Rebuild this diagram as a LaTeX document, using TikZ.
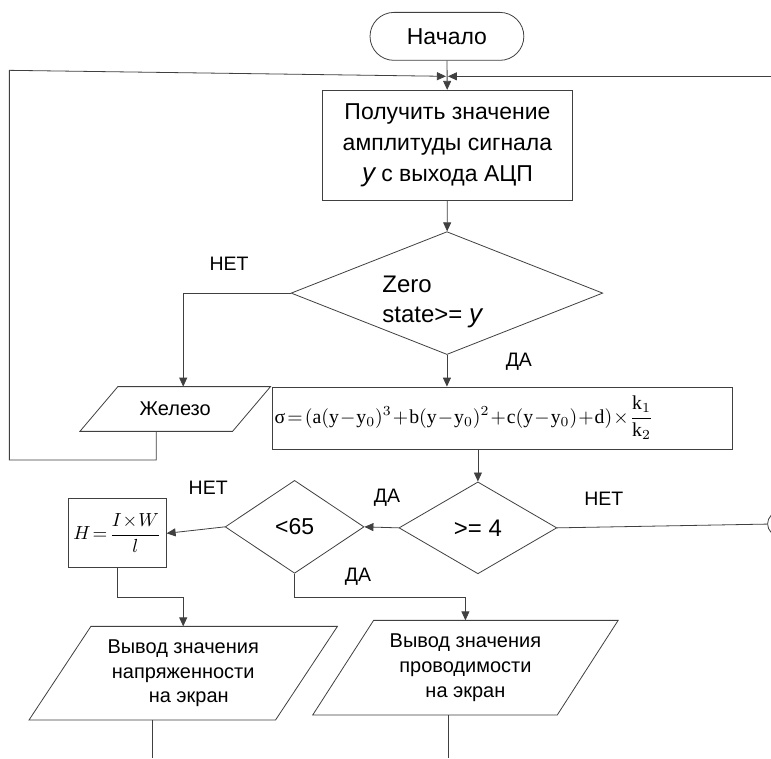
\documentclass[tikz,border=0pt]{standalone}
\usepackage{fontspec}
\usepackage{graphicx}
\setmainfont{Liberation Sans}
\setmathrm{Liberation Serif}
\newfontfamily\tnr{Liberation Serif}
\usetikzlibrary{shapes.geometric,shapes.misc,arrows.meta,calc}
\begin{document}
\begin{tikzpicture}[x=1pt,y=-1pt,
  every path/.style={line width=0.8pt, draw=black!75},
  box/.style={draw, rectangle, inner sep=0pt, align=center},
  dia/.style={draw, diamond, inner sep=0pt, align=center},
  iotext/.style={rectangle, inner sep=0pt, align=center},
  term/.style={draw, rounded rectangle, inner sep=0pt},
  arr/.style={-{Triangle[length=9pt,width=8pt]}},
  lbl/.style={font=\fontsize{19.5}{22}\selectfont},
  big/.style={font=\fontsize{23}{31}\selectfont},
  mid/.style={font=\fontsize{20}{25}\selectfont}]
\useasboundingbox (0,0) rectangle (771,758);
\fill[white] (0,0) rectangle (771,758);

% nodes
\node[term, big, minimum width=154pt, minimum height=48pt] (start) at (447,36) {Начало};
\node[box, big, minimum width=251pt, minimum height=110pt] (get) at (447.5,145)
  {Получить значение\\амплитуды сигнала\\{\fontsize{26}{31}\selectfont\itshape y} с выхода АЦП};
\node[dia, minimum width=312pt, minimum height=123pt] (dec1) at (447,293) {};
\node[anchor=west, inner sep=0pt, align=left, font=\fontsize{24}{30}\selectfont] (dec1t) at (382,302)
  {Zero\\state>= {\fontsize{26}{30}\selectfont\itshape y}};
\node[iotext, mid, minimum width=190pt, minimum height=44pt] (iron) at (175,409) {Железо};
\node[box, minimum height=62pt, text width=456pt, inner xsep=2.5pt, align=left] (formula) at (502.5,418)
  {\resizebox{379pt}{!}{$\displaystyle\mbox{\tnr σ}\!=\!(\mathrm{a}(\mathrm{y}\!-\!\mathrm{y}_0)^3\!+\!\mathrm{b}(\mathrm{y}\!-\!\mathrm{y}_0)^2\!+\!\mathrm{c}(\mathrm{y}\!-\!\mathrm{y}_0)\!+\!\mathrm{d})\!\times\!\frac{\mathrm{k}_1}{\mathrm{k}_2}$}};
\node[dia, font=\fontsize{24}{26}\selectfont, minimum width=158pt, minimum height=92pt] (dec2) at (478,528) {>= 4};
\node[dia, font=\fontsize{23}{26}\selectfont, minimum width=139pt, minimum height=93pt] (dec3) at (294.5,527) {<65};
\node[box, minimum width=98pt, minimum height=69pt] (hbox) at (117,533.5)
  {\resizebox{88pt}{!}{$\displaystyle H\!=\!\frac{I\!\times\! W}{l}$}};
\node[iotext, mid, minimum width=308pt, minimum height=93pt] (out1) at (183,673.5)
  {Вывод значения\\напряженности\\\ \ на экран};
\node[iotext, mid, minimum width=305pt, minimum height=94pt] (out2) at (465.5,668)
  {Вывод значения\\проводимости\\на экран};
\node[draw, circle, minimum size=24pt, inner sep=0pt] (conn) at (780,524) {};

% parallelogram outlines
\draw (iron.south west) -- ([xshift=38pt]iron.north west) -- (iron.north east) -- ([xshift=-38pt]iron.south east) -- cycle;
\draw (out1.south west) -- ([xshift=62pt]out1.north west) -- (out1.north east) -- ([xshift=-62pt]out1.south east) -- cycle;
\draw (out2.south west) -- ([xshift=61pt]out2.north west) -- (out2.north east) -- ([xshift=-61pt]out2.south east) -- cycle;

% coordinates
\coordinate (mg) at (447,76);
\coordinate (lt) at (9,70);
\coordinate (lb) at (9,460);
\coordinate (ib) at (156,460);
\coordinate (rin) at (771,76);
\coordinate (o1e) at (152,758);
\coordinate (o2e) at (448,758);

% connectors
\draw[arr] (start) -- (get);
\draw[arr] (ib |- iron.south) -- (ib) -- (lb) -- (lt) -- ([xshift=-1pt]mg);
\draw[arr] (rin) -- ([xshift=1pt]mg);
\draw[arr] (get) -- (dec1);
\draw[arr] (dec1.west) -| ([xshift=8pt]iron.north);
\draw[arr] (dec1.south) -- (dec1.south |- formula.north);
\draw[arr] (dec2.north |- formula.south) -- (dec2.north);
\draw[arr] (dec2.west) -- (dec3.east);
\draw (dec2.east) -- (conn);
\draw[arr] (dec3.west) -- (hbox.east);
\draw[arr] (hbox.south) -- ++(0,29) -| (out1.north);
\draw[arr] (dec3.south) -- ++(0,24) -| (out2.north);
\draw (o1e |- out1.south) -- (o1e);
\draw (o2e |- out2.south) -- (o2e);

% labels
\node[lbl] (l1) at (229,264) {НЕТ};
\node[lbl] (l2) at (519,362) {ДА};
\node[lbl] (l3) at (387,498) {ДА};
\node[lbl] (l4) at (604,499) {НЕТ};
\node[lbl] (l5) at (208,488) {НЕТ};
\node[lbl] (l6) at (358,577) {ДА};
\end{tikzpicture}
\end{document}
